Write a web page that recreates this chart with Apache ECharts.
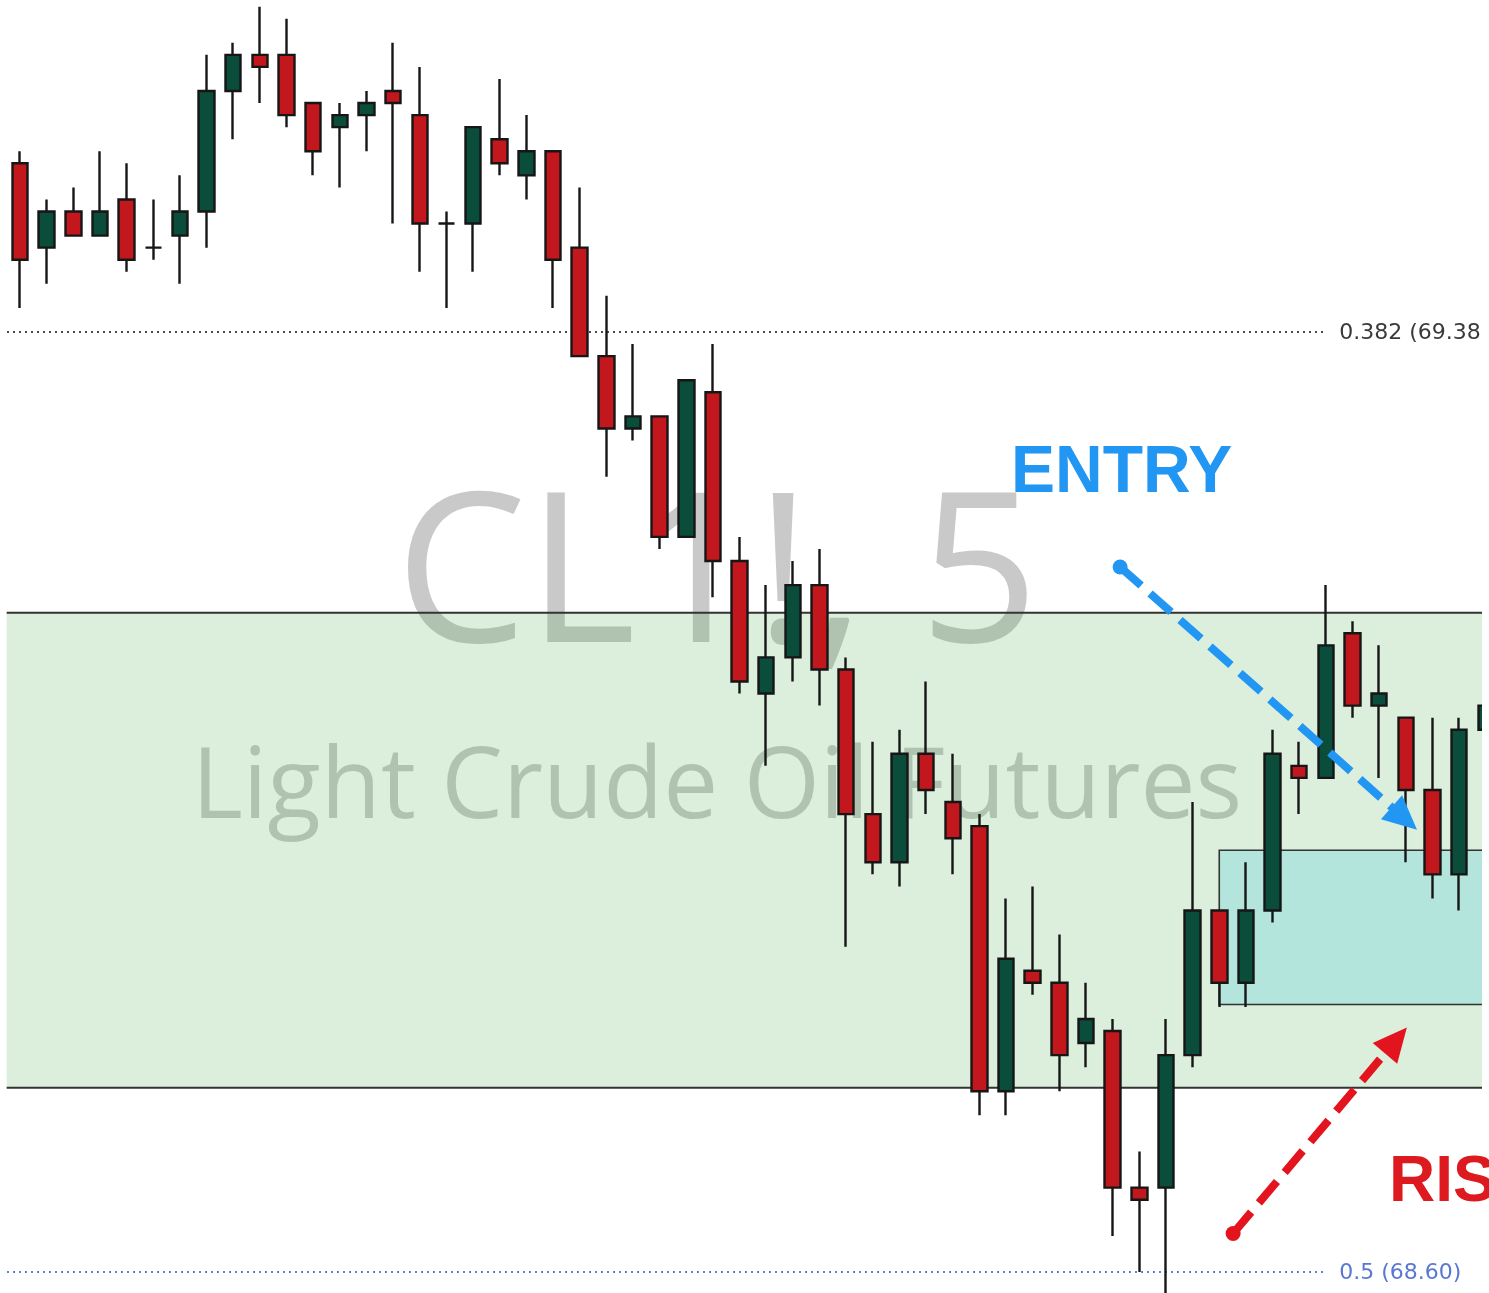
<!DOCTYPE html>
<html><head><meta charset="utf-8">
<script src="https://cdn.jsdelivr.net/npm/echarts@6/dist/echarts.min.js"></script>
<style>html,body{margin:0;padding:0;background:#fff;overflow:hidden}#c{width:1489px;height:1293px}</style>
</head><body><div id="c"></div>
<script>
// ---- data (CL1!, 5-minute bars) ----
const bars = ['1','2','3','4','5','6','7','8','9','10','11','12','13','14','15','16','17','18','19','20',
  '21','22','23','24','25','26','27','28','29','30','31','32','33','34','35','36','37','38','39','40',
  '41','42','43','44','45','46','47','48','49','50','51','52','53','54','55','56'];
const opens = [69.52,69.45,69.48,69.46,69.49,69.45,69.46,69.48,69.58,69.61,69.61,69.57,69.55,69.56,69.58,69.56,69.47,69.47,69.54,69.51,
  69.53,69.45,69.36,69.30,69.31,69.21,69.33,69.19,69.08,69.11,69.17,69.10,68.98,68.94,69.03,68.99,68.97,68.75,68.85,68.84,
  68.79,68.80,68.67,68.67,68.78,68.90,68.84,68.90,69.02,69.01,69.13,69.07,69.06,69.00,68.93,69.05];
const closes = [69.44,69.48,69.46,69.48,69.44,69.45,69.48,69.58,69.61,69.60,69.56,69.53,69.56,69.57,69.57,69.47,69.47,69.55,69.52,69.53,
  69.44,69.36,69.30,69.31,69.21,69.34,69.19,69.09,69.11,69.17,69.10,68.98,68.94,69.03,69.00,68.96,68.75,68.86,68.84,68.78,
  68.81,68.67,68.66,68.78,68.90,68.84,68.90,69.03,69.01,69.12,69.07,69.08,69.00,68.93,69.05,69.07];
const lows = [69.40,69.42,69.46,69.46,69.43,69.44,69.42,69.45,69.54,69.57,69.55,69.51,69.50,69.53,69.47,69.43,69.40,69.43,69.51,69.49,
  69.40,69.36,69.26,69.29,69.20,69.21,69.16,69.08,69.02,69.09,69.07,68.87,68.93,68.92,68.98,68.93,68.73,68.73,68.83,68.75,
  68.77,68.63,68.60,68.58,68.77,68.82,68.82,68.89,68.98,69.01,69.06,69.01,68.94,68.91,68.90,69.04];
const highs = [69.53,69.49,69.50,69.53,69.52,69.49,69.51,69.61,69.62,69.65,69.64,69.57,69.57,69.58,69.62,69.60,69.48,69.55,69.59,69.56,
  69.53,69.50,69.41,69.37,69.31,69.34,69.37,69.21,69.17,69.19,69.20,69.11,69.04,69.05,69.09,69.03,68.98,68.91,68.92,68.88,
  68.84,68.81,68.70,68.81,68.99,68.90,68.94,69.05,69.04,69.17,69.14,69.12,69.06,69.06,69.06,69.08];
const fibRatios = ['0.382', '0.5'];
const fibPrices = [69.38, 68.60];
const fibLabels = ['0.382 (69.38', '0.5 (68.60)'];
const zonePrices = [69.147, 68.753];        // support zone top / bottom
const entryZonePrices = [68.950, 68.822];   // entry box top / bottom
const entryBoxStartBar = 45;
const entryArrowPts = [[41.28, 69.185], [52.42, 68.967]];
const riskArrowPts = [[45.52, 68.632], [52.04, 68.803]];
const fibLineEndBar = 48.9;

const GREEN = '#0b4d3b', RED = '#c2181d', EDGE = '#161616';

const chart = echarts.init(document.getElementById('c'), null, {renderer: 'canvas'});
chart.setOption({
  animation: false,
  backgroundColor: '#ffffff',
  grid: {left: 6.68, top: 0, width: 1492.4, height: 1293, containLabel: false, outerBoundsMode: 'none'},
  xAxis: {type: 'category', data: bars, boundaryGap: true, show: false},
  yAxis: {type: 'value', min: 68.5826, max: 69.6555, scale: true, show: false, splitLine: {show: false}},
  series: [{
    type: 'candlestick',
    z: 2,
    silent: true,
    barWidth: 16,
    clip: true,
    data: opens.map((o, i) => [o, closes[i], lows[i], highs[i]]),
    itemStyle: {color: GREEN, color0: RED, borderColor: EDGE, borderColor0: EDGE, borderColorDoji: EDGE, borderWidth: 2.4}
  }]
});

function toPx(xi, price) {
  const i0 = Math.floor(xi), f = xi - i0;
  const a = chart.convertToPixel({gridIndex: 0}, [i0, price]);
  const b = chart.convertToPixel({gridIndex: 0}, [Math.min(i0 + 1, bars.length - 1), price]);
  const step = (i0 + 1 <= bars.length - 1) ? (b[0] - a[0]) : 26.65;
  return [a[0] + step * f, a[1]];
}
const rect = chart.getModel().getComponent('grid').coordinateSystem.getRect();
const gL = rect.x, gR = rect.x + rect.width;
const paneRight = 1482;

const g = [];
// watermark
g.push({type: 'text', z: 0, style: {text: 'CL1!, 5', x: 717, y: 582, font: '209px "Open Sans"', fill: 'rgba(70,70,70,0.29)', textAlign: 'center', align: 'center', textVerticalAlign: 'middle', verticalAlign: 'middle'}});
g.push({type: 'text', z: 0, style: {text: 'Light Crude Oil Futures', x: 717, y: 790, font: '98px "Open Sans"', fill: 'rgba(70,70,70,0.29)', textAlign: 'center', align: 'center', textVerticalAlign: 'middle', verticalAlign: 'middle'}});
// support zone
const zt = chart.convertToPixel({gridIndex: 0}, [0, zonePrices[0]])[1];
const zb = chart.convertToPixel({gridIndex: 0}, [0, zonePrices[1]])[1];
g.push({type: 'rect', z: 0.1, shape: {x: gL, y: zt, width: gR - gL, height: zb - zt}, style: {fill: 'rgba(76,175,80,0.2)'}});
g.push({type: 'line', z: 0.3, shape: {x1: gL, y1: zt, x2: gR, y2: zt}, style: {stroke: '#333', lineWidth: 2}});
g.push({type: 'line', z: 0.3, shape: {x1: gL, y1: zb, x2: gR, y2: zb}, style: {stroke: '#333', lineWidth: 2}});
// entry box
const et = toPx(entryBoxStartBar, entryZonePrices[0]);
const eb = toPx(entryBoxStartBar, entryZonePrices[1]);
g.push({type: 'rect', z: 0.2, shape: {x: et[0], y: et[1], width: gR - et[0], height: eb[1] - et[1]}, style: {fill: '#b3e5dc'}});
g.push({type: 'polyline', z: 0.3, shape: {points: [[gR, et[1]], [et[0], et[1]], [et[0], eb[1]], [gR, eb[1]]]}, style: {stroke: '#333', lineWidth: 1.6, fill: null}});
// fib levels
const fibColors = ['#4a4a4a', '#6680d2'];
const fibTextColors = ['#3a3a3a', '#5a78d2'];
fibPrices.forEach((p, k) => {
  const a = toPx(0, p), e = toPx(fibLineEndBar, p);
  g.push({type: 'line', z: 0.4, shape: {x1: 7, y1: a[1], x2: e[0], y2: a[1]}, style: {stroke: fibColors[k], lineWidth: 2, lineDash: [2, 4]}});
  g.push({type: 'text', z: 20, style: {text: fibLabels[k], x: e[0] + 16, y: a[1] + 1, font: '22px "DejaVu Sans"', fill: fibTextColors[k], textAlign: 'left', align: 'left', textVerticalAlign: 'middle', verticalAlign: 'middle'}});
});
// arrows
function arrow(p0d, p1d, color) {
  const p0 = toPx(p0d[0], p0d[1]), p1 = toPx(p1d[0], p1d[1]);
  const dx = p1[0] - p0[0], dy = p1[1] - p0[1], L = Math.hypot(dx, dy), ux = dx / L, uy = dy / L;
  const hl = 34, hw = 16;
  const base = [p1[0] - ux * hl, p1[1] - uy * hl];
  const nx = -uy, ny = ux;
  g.push({type: 'line', z: 10, shape: {x1: p0[0], y1: p0[1], x2: base[0] + ux * 4, y2: base[1] + uy * 4}, style: {stroke: color, lineWidth: 8, lineDash: [28, 12], lineCap: 'butt'}});
  g.push({type: 'circle', z: 10, shape: {cx: p0[0], cy: p0[1], r: 7.5}, style: {fill: color}});
  g.push({type: 'polygon', z: 10, shape: {points: [p1, [base[0] + nx * hw, base[1] + ny * hw], [base[0] - nx * hw, base[1] - ny * hw]]}, style: {fill: color}});
}
arrow(entryArrowPts[0], entryArrowPts[1], '#2196f3');
arrow(riskArrowPts[0], riskArrowPts[1], '#e3141d');
// right pane edge
g.push({type: 'rect', z: 15, shape: {x: paneRight, y: 0, width: 1489 - paneRight, height: 1293}, style: {fill: '#ffffff'}});
// annotation texts
g.push({type: 'text', z: 20, style: {text: 'ENTRY', x: 1011, y: 474, font: 'bold 66px "Liberation Sans"', fill: '#2196f3', textAlign: 'left', align: 'left', textVerticalAlign: 'middle', verticalAlign: 'middle'}});
g.push({type: 'text', z: 20, style: {text: 'RIS', x: 1389, y: 1183, font: 'bold 64px "Liberation Sans"', fill: '#dd1a1f', textAlign: 'left', align: 'left', textVerticalAlign: 'middle', verticalAlign: 'middle'}});
chart.setOption({graphic: {elements: g}});
</script></body></html>
